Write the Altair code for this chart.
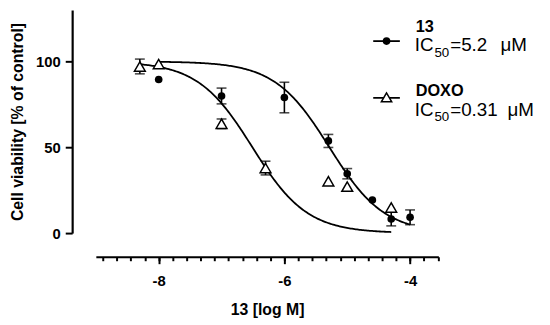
import altair as alt
import numpy as np
import pandas as pd

# ---- data ----
dose_13 = [-8, -7, -6, -5.3, -5, -4.6, -4.3, -4]
viab_13 = [89.5, 79.9, 79.0, 53.7, 34.6, 19.3, 8.2, 9.2]
sem_13 = [0, 4.6, 8.9, 3.8, 3.0, 0, 4.0, 4.3]

dose_doxo = [-8.3, -8, -7, -6.3, -5.3, -5, -4.3]
viab_doxo = [97.1, 98.5, 63.7, 37.9, 30.2, 27.1, 14.9]
sem_doxo = [4.3, 0, 2.8, 4.0, 0, 0, 0]

compounds = ["13", "DOXO"]
ic50_uM = [5.2, 0.31]
curve_range = [(-8.0, -4.0), (-8.3, -4.3)]
hill = 1.0

y_ticks = [0, 50, 100]
x_major = [-8, -6, -4]
x_minor = [round(-8 + k * 2 / 9, 4) for k in range(-4, 21)]

FONT = "Liberation Sans"

pts = pd.concat([
    pd.DataFrame({"compound": "13", "dose": dose_13, "viab": viab_13, "sem": sem_13}),
    pd.DataFrame({"compound": "DOXO", "dose": dose_doxo, "viab": viab_doxo, "sem": sem_doxo}),
])
pts["lo"] = pts["viab"] - pts["sem"]
pts["hi"] = pts["viab"] + pts["sem"]
err = pts[pts["sem"] > 0]
caps = pd.concat([err.assign(cap=err["lo"]), err.assign(cap=err["hi"])])

curves = []
for name, ic, (a, b) in zip(compounds, ic50_uM, curve_range):
    xs = np.linspace(a, b, 200)
    ys = 100 / (1 + 10 ** ((xs - np.log10(ic * 1e-6)) * hill))
    curves.append(pd.DataFrame({"compound": name, "dose": xs, "viab": ys}))
curves = pd.concat(curves)

xscale = alt.Scale(domain=[-9, -3.55], nice=False, zero=False)

x_major_enc = alt.X(
    "dose:Q",
    scale=xscale,
    axis=alt.Axis(
        values=x_major,
        orient="bottom",
        title="13 [log M]",
        offset=24,
        grid=False,
        domainColor="black", domainWidth=2.2,
        tickColor="black", tickWidth=2, tickSize=7,
        labelExpr="'' + datum.value",
        labelFont=FONT, labelFontSize=15, labelFontWeight="bold", labelColor="black",
        labelPadding=10, labelFlush=False, labelOverlap=False,
        titleFont=FONT, titleFontSize=16, titleFontWeight="bold", titleColor="black",
        titlePadding=13,
    ),
)
x_minor_enc = alt.X(
    "dose:Q",
    scale=xscale,
    axis=alt.Axis(
        values=x_minor,
        orient="bottom",
        title=None,
        offset=24,
        grid=False,
        domain=False,
        labels=False,
        tickColor="black", tickWidth=2, tickSize=4,
    ),
)
x_plain = alt.X("dose:Q", scale=xscale, axis=None)

y_enc = alt.Y(
    "viab:Q",
    scale=alt.Scale(domain=[0, 130], nice=False),
    axis=alt.Axis(
        values=y_ticks,
        title="Cell viability [% of control]",
        offset=24,
        grid=False,
        domainColor="black", domainWidth=2.2,
        tickColor="black", tickWidth=2, tickSize=7,
        labelFont=FONT, labelFontSize=15, labelFontWeight="bold", labelColor="black",
        labelPadding=5,
        titleFont=FONT, titleFontSize=16, titleFontWeight="bold", titleColor="black",
        titlePadding=10,
    ),
)

curve_layer = alt.Chart(curves).mark_line(color="black", strokeWidth=1.8).encode(
    x=x_major_enc, y=y_enc, detail="compound:N"
)
bars = alt.Chart(err).mark_rule(color="black", strokeWidth=1.6).encode(
    x=x_minor_enc, y="lo:Q", y2="hi:Q"
)
cap_layer = alt.Chart(caps).mark_tick(
    orient="horizontal", color="black", size=10, thickness=1.6
).encode(x=x_plain, y="cap:Q")
circ = alt.Chart(pts[pts["compound"] == "13"]).mark_point(
    shape="circle", filled=True, color="black", size=60, opacity=1
).encode(x=x_plain, y="viab:Q")
tri = alt.Chart(pts[pts["compound"] == "DOXO"]).mark_point(
    shape="triangle-up", filled=True, fill="white", stroke="black", strokeWidth=1.5, size=120, opacity=1
).encode(x=x_plain, y="viab:Q")

one = pd.DataFrame({"k": [0]})


def txt(s, x, y, size, weight="normal"):
    return alt.Chart(one).mark_text(
        text=s, font=FONT, fontSize=size, fontWeight=weight, color="black",
        align="left", baseline="alphabetic"
    ).encode(x=alt.value(x), y=alt.value(y))


def leg_line(y):
    return alt.Chart(one).mark_rule(color="black", strokeWidth=1.8).encode(
        x=alt.value(281), x2=alt.value(308), y=alt.value(y)
    )


leg = [
    leg_line(31.5),
    alt.Chart(one).mark_point(shape="circle", filled=True, color="black", size=60, opacity=1).encode(
        x=alt.value(294.5), y=alt.value(31.5)),
    leg_line(89),
    alt.Chart(one).mark_point(shape="triangle-up", filled=True, fill="white", stroke="black",
                              strokeWidth=1.5, size=110, opacity=1).encode(
        x=alt.value(294.5), y=alt.value(88.5)),
    txt(compounds[0], 324, 22, 16.5, "bold"),
    txt("IC", 323, 42, 19),
    txt("50", 343, 47.5, 13.5),
    txt(f"={ic50_uM[0]}", 359, 42, 19),
    txt("μM", 410, 42, 19),
    txt(compounds[1], 324, 87, 16.5, "bold"),
    txt("IC", 323, 107, 19),
    txt("50", 343, 112.5, 13.5),
    txt(f"={ic50_uM[1]}", 359, 107, 19),
    txt("μM", 417, 107, 19),
]

chart = alt.layer(curve_layer, bars, cap_layer, circ, tri, *leg).resolve_axis(
    x="independent"
).properties(
    width=347, height=226,
    autosize=alt.AutoSizeParams(type="none"),
    padding={"left": 89, "top": 0, "right": 105, "bottom": 85},
).configure(background="white").configure_view(stroke=None)

chart.save("out.html", embed_options={"renderer": "svg", "actions": False})
